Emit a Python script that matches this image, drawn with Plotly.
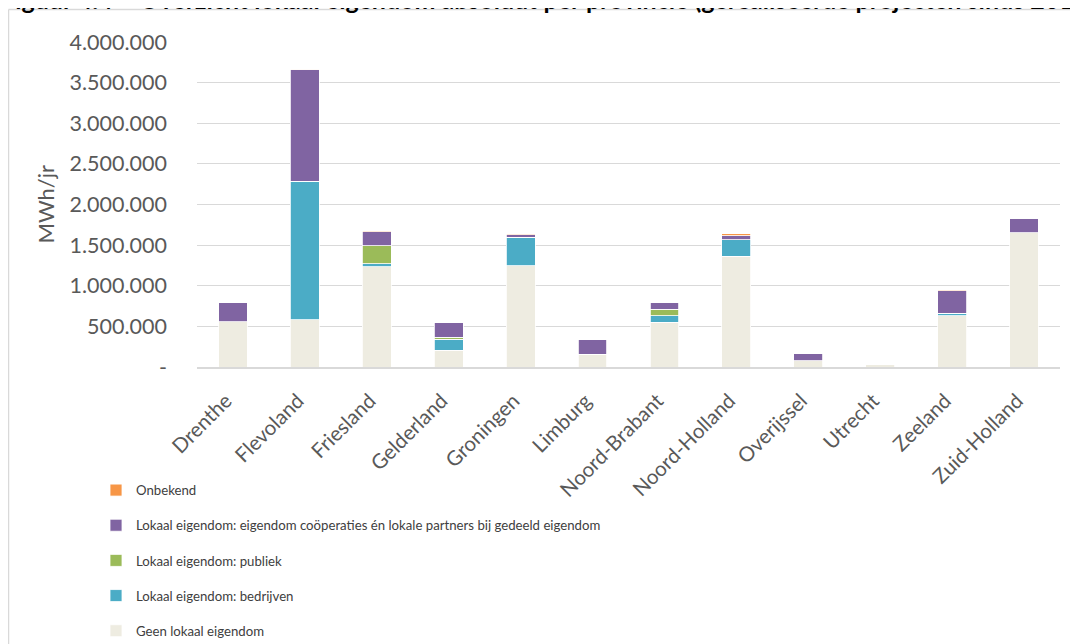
import plotly.graph_objects as go

provinces = ["Drenthe", "Flevoland", "Friesland", "Gelderland", "Groningen", "Limburg",
             "Noord-Brabant", "Noord-Holland", "Overijssel", "Utrecht", "Zeeland", "Zuid-Holland"]

geen = [558000, 579000, 1232000, 206000, 1248000, 160000, 550000, 1364000, 76000, 25000, 632000, 1652000]
bedrijven = [0, 1708000, 40000, 135000, 349000, 0, 82000, 205000, 0, 0, 28000, 0]
publiek = [0, 0, 218000, 28000, 0, 0, 78000, 0, 0, 0, 0, 0]
cooperaties = [230000, 1374000, 176000, 173000, 29000, 176000, 82000, 49000, 87000, 0, 278000, 178000]
onbekend = [0, 5000, 12000, 4000, 12000, 0, 0, 20000, 0, 0, 12000, 0]

series_names = ["Geen lokaal eigendom", "Lokaal eigendom: bedrijven", "Lokaal eigendom: publiek",
                "Lokaal eigendom: eigendom coöperaties én lokale partners bij gedeeld eigendom", "Onbekend"]
series_values = [geen, bedrijven, publiek, cooperaties, onbekend]
series_colors = ["#EEECE1", "#4BACC6", "#9BBB59", "#8064A2", "#F79646"]

y_tickvals = [0, 500000, 1000000, 1500000, 2000000, 2500000, 3000000, 3500000, 4000000]
y_ticktext = ["-", "500.000", "1.000.000", "1.500.000", "2.000.000", "2.500.000",
              "3.000.000", "3.500.000", "4.000.000"]

y_title = "MWh/jr"
title_text = "Figuur 4.4 – Overzicht lokaal eigendom absoluut per provincie (gerealiseerde projecten sinds 2012)"

FONT = "Lato, 'Open Sans', sans-serif"

fig = go.Figure()
n = len(series_names)
for i, (name, vals, col) in enumerate(zip(series_names, series_values, series_colors)):
    fig.add_trace(go.Bar(
        x=provinces, y=vals, name=name,
        marker=dict(color=col, line=dict(color="white", width=0.8)),
        legendgroup=f"g{i}",
        legendrank=n - i,
    ))

# The page body adds an 8px offset; figure coordinates below are page - 8
W, H = 1070, 636
L, R, T, B = 189, 18, 34, 277
pw = W - L - R
ph = H - T - B

border_top = 1 + (T - 1.5) / ph
border_left = (0.5 - L) / pw

fig.update_layout(
    width=W, height=H,
    margin=dict(l=L, r=R, t=T, b=B, autoexpand=False),
    barmode="stack",
    bargap=0.6,
    plot_bgcolor="white",
    paper_bgcolor="white",
    font=dict(family=FONT, color="#595959"),
    showlegend=True,
    legend=dict(
        traceorder="grouped",
        tracegroupgap=15,
        xref="container", yref="container",
        x=88 / W, xanchor="left",
        y=1 - 467 / H, yanchor="top",
        font=dict(size=13.2, color="#404040", family=FONT),
        itemwidth=30,
        bgcolor="rgba(0,0,0,0)",
    ),
    xaxis=dict(
        tickangle=-45,
        tickfont=dict(size=20.5, color="#595959"),
        showline=True, linecolor="#d9d9d9", linewidth=1.5,
        showgrid=False,
        ticks="",
        ticklabelstandoff=12,
        ticklabelshift=-7,
        automargin=False,
    ),
    yaxis=dict(
        range=[0, 4000000],
        tickvals=y_tickvals, ticktext=y_ticktext,
        tickfont=dict(size=21.5, color="#595959"),
        showgrid=True, gridcolor="#d9d9d9", gridwidth=1.3,
        zeroline=False,
        ticks="",
        ticklabelstandoff=29,
        automargin=False,
    ),
    shapes=[
        dict(type="line", xref="paper", yref="paper",
             x0=border_left, x1=border_left, y0=-2, y1=border_top,
             line=dict(color="#d9d9d9", width=1.5), layer="below"),
        dict(type="line", xref="paper", yref="paper",
             x0=border_left, x1=(W + 20 - L) / pw, y0=border_top, y1=border_top,
             line=dict(color="#d9d9d9", width=1.5), layer="below"),
    ],
    annotations=[
        dict(
            text="<b>" + title_text + "</b>",
            xref="paper", yref="paper",
            x=(-9 - L) / pw, xanchor="left",
            y=1 + (T + 9.5) / ph, yanchor="middle",
            showarrow=False,
            font=dict(size=25, color="#000000", family=FONT),
        ),
        dict(
            text=y_title,
            xref="paper", yref="paper",
            x=(37 - L) / pw, xanchor="center",
            y=0.5, yanchor="middle",
            textangle=-90,
            showarrow=False,
            font=dict(size=22, color="#595959", family=FONT),
        ),
    ],
)

fig.write_html("out.html")
